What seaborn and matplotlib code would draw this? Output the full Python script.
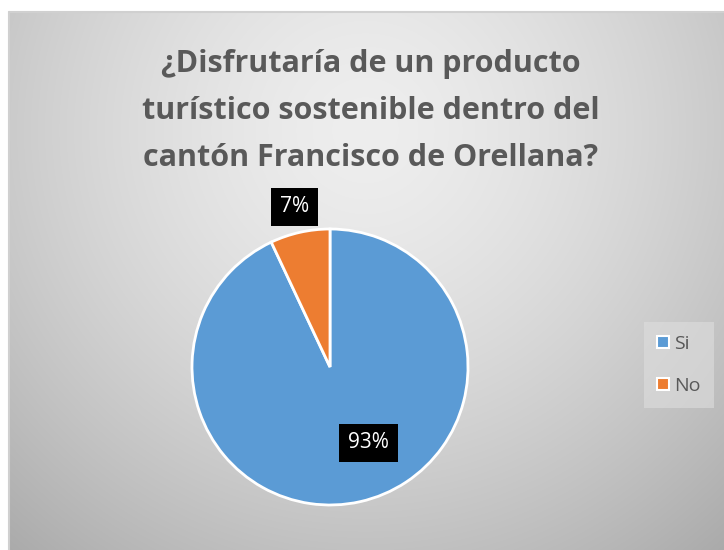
import numpy as np
import matplotlib
matplotlib.use("Agg")
import matplotlib.pyplot as plt
from matplotlib.lines import Line2D
import seaborn as sns

# Survey answers
categories = ["Si", "No"]
shares = [93, 7]
title = "¿Disfrutaría de un producto\nturístico sostenible dentro del\ncantón Francisco de Orellana?"

sns.set_style("white")
plt.rcParams["font.family"] = ["Open Sans", "DejaVu Sans"]
colors = ["#5B9BD5", "#ED7D31"]

W, H = 724, 550
fig = plt.figure(figsize=(W / 100, H / 100), dpi=100)
fig.patch.set_facecolor("white")

# Chart area with a radial grey gradient
x0, y0 = 9, 12  # left / top offset of the chart area in pixels
bg = fig.add_axes([x0 / W, 0, (W - x0) / W, (H - y0) / H])
gx = np.arange(x0, W)
gy = np.arange(y0, H)
X, Y = np.meshgrid(gx, gy)
d = np.hypot(X - 365, Y - 130) / 553.0
v = np.clip(238 - 68 * d ** 1.5, 150, 245) / 255.0
bg.imshow(np.dstack([v, v, v]), aspect="auto", interpolation="bilinear",
          extent=[0, 1, 0, 1])
bg.set_xlim(0, 1)
bg.set_ylim(0, 1)
bg.axis("off")
fig.add_artist(Line2D([x0 / W, 1], [(H - y0) / H] * 2, color="#d0d0d0", lw=1.5))
fig.add_artist(Line2D([x0 / W] * 2, [0, (H - y0) / H], color="#d0d0d0", lw=1.5))

# Pie
cx, cy, r = 330, 367, 138
ax = fig.add_axes([(cx - r) / W, (H - cy - r) / H, 2 * r / W, 2 * r / H])
wedges, _ = ax.pie(shares, colors=colors, startangle=90, counterclock=False,
                   wedgeprops=dict(edgecolor="white", linewidth=2))
ax.set_xlim(-1, 1)
ax.set_ylim(-1, 1)
ax.set_aspect("auto")
ax.axis("off")

# Percentage labels in black boxes
label_pos = {"Si": (0.28, -0.55), "No": (-0.255, 1.16)}
for cat, val in zip(categories, shares):
    lx, ly = label_pos[cat]
    ax.text(lx, ly, f"{val}%", ha="center", va="center", color="white",
            fontsize=15, clip_on=False,
            bbox=dict(boxstyle="square,pad=0.42", facecolor="black",
                      edgecolor="none"))

fig.text(371 / W, 1 - 111 / H, title, ha="center", va="center",
         fontsize=22, fontweight="bold", color="#595959", linespacing=1.72)

handles = [Line2D([], [], marker="s", linestyle="none", markersize=8,
                  markerfacecolor=c, markeredgecolor="white",
                  markeredgewidth=1.5) for c in colors]
leg = fig.legend(handles, categories, loc="center", bbox_to_anchor=(679 / W, 1 - 365 / H),
                 frameon=True, fontsize=14, handlelength=0.6, handletextpad=0.3,
                 labelspacing=1.25, borderpad=0.35, labelcolor="#595959")
leg.get_frame().set_facecolor("#dedede")
leg.get_frame().set_edgecolor("none")
leg.get_frame().set_alpha(0.6)
leg.get_frame().set_boxstyle("square")

fig.savefig("out.png", dpi=100)
